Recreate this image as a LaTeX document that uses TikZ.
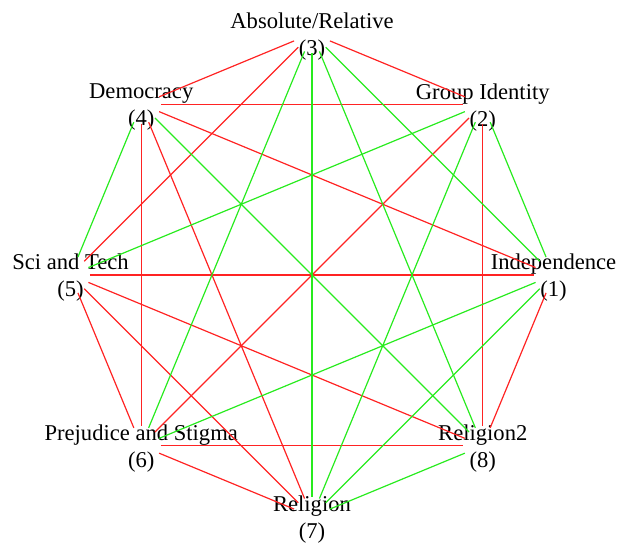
\documentclass[tikz,border=0pt]{standalone}
\usepackage{fontspec}
\setmainfont{Liberation Serif}
\usepackage{xcolor}
\definecolor{edgered}{RGB}{255,35,35}
\definecolor{edgegreen}{RGB}{40,235,30}
\usepackage{tikz}
\tikzset{
  gnode/.style={circle,inner sep=0pt,minimum size=19pt},
  glabel/.style={align=center,inner sep=0pt,yshift=-1.5pt,
    font=\fontsize{11.3}{13.5}\selectfont},
  neg_edge/.style={draw=edgered,line width=0.6pt},
  pos_edge/.style={draw=edgegreen,line width=0.6pt},
}

\begin{document}
\begin{tikzpicture}[x=0.5pt,y=0.5pt]
  \useasboundingbox (-312,-269) rectangle (305,275);
  % eight items on a circle, item k at (k-1)*45 degrees
  \node (n1) [gnode,label={[glabel]center:Independence\\(1)}]         at (0:241.5)   {};
  \node (n2) [gnode,label={[glabel]center:Group Identity\\(2)}]       at (45:241.5)  {};
  \node (n3) [gnode,label={[glabel]center:Absolute/Relative\\(3)}]    at (90:241.5)  {};
  \node (n4) [gnode,label={[glabel]center:Democracy\\(4)}]            at (135:241.5) {};
  \node (n5) [gnode,label={[glabel]center:Sci and Tech\\(5)}]         at (180:241.5) {};
  \node (n6) [gnode,label={[glabel]center:Prejudice and Stigma\\(6)}] at (225:241.5) {};
  \node (n7) [gnode,label={[glabel]center:Religion\\(7)}]             at (270:241.5) {};
  \node (n8) [gnode,label={[glabel]center:Religion2\\(8)}]            at (315:241.5) {};

  % red edges
  \draw[neg_edge] (n3) -- (n4);
  \draw[neg_edge] (n3) -- (n2);
  \draw[neg_edge] (n3) -- (n5);
  \draw[neg_edge] (n2) -- (n4);
  \draw[neg_edge] (n2) -- (n6);
  \draw[neg_edge] (n2) -- (n8);
  \draw[neg_edge] (n4) -- (n6);
  \draw[neg_edge] (n4) -- (n7);
  \draw[neg_edge] (n4) -- (n1);
  \draw[neg_edge] (n5) -- (n1);
  \draw[neg_edge] (n5) -- (n8);
  \draw[neg_edge] (n5) -- (n7);
  \draw[neg_edge] (n5) -- (n6);
  \draw[neg_edge] (n1) -- (n8);
  \draw[neg_edge] (n6) -- (n8);
  \draw[neg_edge] (n6) -- (n7);
  % green edges
  \draw[pos_edge] (n3) -- (n6);
  \draw[pos_edge] (n3) -- (n7);
  \draw[pos_edge] (n3) -- (n8);
  \draw[pos_edge] (n3) -- (n1);
  \draw[pos_edge] (n2) -- (n5);
  \draw[pos_edge] (n2) -- (n7);
  \draw[pos_edge] (n2) -- (n1);
  \draw[pos_edge] (n4) -- (n5);
  \draw[pos_edge] (n4) -- (n8);
  \draw[pos_edge] (n1) -- (n6);
  \draw[pos_edge] (n1) -- (n7);
  \draw[pos_edge] (n7) -- (n8);
\end{tikzpicture}
\end{document}
